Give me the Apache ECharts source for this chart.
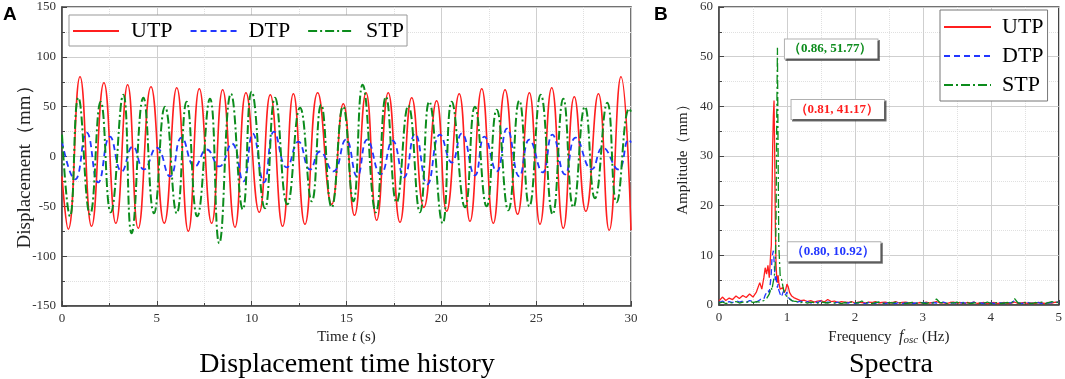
<!DOCTYPE html>
<html><head><meta charset="utf-8">
<script src="https://cdn.jsdelivr.net/npm/echarts@6/dist/echarts.min.js"></script>
<style>html,body{margin:0;padding:0;background:#fff}#c{width:1065px;height:379px}</style>
</head><body><div id="c"></div>
<script>
// ---------- DATA ----------
const seriesNames = ['UTP', 'DTP', 'STP'];
const seriesColors = ['#ff1f1f', '#2236ff', '#0c8c1c'];

// Displacement time history: [time (s), displacement (mm)] read at extrema
const utpHistory = [[0,-20],[0.33,-73],[0.95,80],[1.56,-70],[2.21,74],[2.84,-67],[3.46,72],[4.02,-72],[4.69,70],[5.39,-67],[6.05,69],[6.66,-75],[7.24,68],[7.89,-67],[8.47,67],[9.12,-71],[9.70,64],[10.40,-56],[10.98,62],[11.63,-70],[12.20,63],[12.81,-68],[13.48,64],[14.22,-48],[14.83,53],[15.42,-59],[16.03,64],[16.59,-64],[17.20,64],[17.82,-66],[18.44,59],[19.08,-51],[19.75,56],[20.28,-55],[20.94,63],[21.51,-65],[22.13,68],[22.74,-67],[23.36,67],[24.02,-58],[24.64,64],[25.2,-68],[25.82,69],[26.43,-72],[27.01,60],[27.62,-55],[28.28,63],[28.85,-74],[29.47,80],[30,-74]];
const dtpHistory = [[0,15],[0.69,-23],[1.30,24],[1.91,-26],[2.53,20],[3.15,-15],[3.73,10],[4.32,-13],[4.99,9],[5.69,-20],[6.31,19],[7.01,-10],[7.63,7],[8.29,-10],[8.95,13],[9.56,-25],[10.06,23],[10.65,-26],[11.18,25],[11.85,-11],[12.46,15],[13.08,-13],[13.60,5],[14.30,-15],[14.97,17],[15.56,-20],[16.09,17],[16.80,-18],[17.43,16],[18.03,-21],[18.61,23],[19.26,-28],[19.93,22],[20.55,-6],[21.07,23],[21.77,-19],[22.27,20],[22.92,-15],[23.46,28],[24.11,-20],[24.64,17],[25.34,-16],[25.85,22],[26.52,-18],[27.08,19],[27.93,-13],[28.51,9],[29.33,-13],[29.89,17],[30,14]];
const stpHistory = [[0,22],[0.42,-60],[0.86,59],[1.48,-58],[2.04,55],[2.57,-56],[3.23,62],[3.67,-77],[4.29,59],[4.85,-57],[5.43,50],[6.05,-57],[6.57,55],[7.13,-60],[7.80,58],[8.29,-87],[8.91,63],[9.53,-53],[10.0,65],[10.7,-52],[11.23,59],[11.88,-48],[12.55,49],[13.17,-45],[13.66,52],[14.22,-51],[14.82,50],[15.36,-45],[15.85,72],[16.55,-56],[17.08,60],[17.64,-46],[18.26,51],[18.87,-56],[19.36,55],[20.07,-67],[20.55,55],[21.25,-51],[21.77,50],[22.39,-50],[22.92,47],[23.53,-54],[24.11,56],[24.64,-50],[25.24,62],[25.87,-58],[26.43,58],[26.96,-51],[27.57,50],[28.10,-42],[28.75,54],[29.24,-46],[29.91,48],[30,45]];

// Spectra: frequency bins (Hz) and amplitudes (mm)
const freqs = [
  0,0.05,0.1,0.15,0.2,0.25,0.3,0.35,0.4,0.45,0.5,0.55,0.6,
  0.63,0.66,0.68,0.7,0.72,0.74,0.76,
  0.77,0.78,0.79,0.8,0.81,0.82,0.83,0.84,0.85,0.86,0.87,0.88,
  0.9,0.92,0.94,0.96,0.98,1.0,1.02,1.04,1.07,1.1,
  1.15,1.2,1.25,1.3,1.35,1.4,1.45,1.5,1.55,1.6,
  1.65,1.7,1.75,1.8,1.85,1.9,1.95,2.0,2.05,2.1,
  2.15,2.2,2.25,2.3,2.35,2.4,2.45,2.5,2.55,2.6,
  2.65,2.7,2.75,2.8,2.85,2.9,2.95,3.0,3.05,3.1,
  3.15,3.2,3.25,3.3,3.35,3.4,3.45,3.5,3.55,3.6,
  3.65,3.7,3.75,3.8,3.85,3.9,3.95,4.0,4.05,4.1,
  4.15,4.2,4.25,4.3,4.35,4.4,4.45,4.5,4.55,4.6,
  4.65,4.7,4.75,4.8,4.85,4.9,4.95,5.0];
const utpSpectrum = [
  0.8,1.6,0.9,1.4,1.1,1.8,1.3,1.9,1.5,2.2,1.6,2.6,4.5,
  3.2,5.5,7.5,6.2,8.0,5.5,10.2,
  12,22,32,38,41.17,30,15,8,5.5,4.5,6,4.5,
  3.2,2.8,3.5,2.5,3,4.2,3.6,2.5,1.8,1.5,
  1.2,0.9,1.0,0.7,0.9,0.6,0.8,0.9,0.6,1.1,
  0.7,0.8,0.5,0.7,0.6,0.5,0.7,0.4,0.6,0.5,
  0.4,0.6,0.5,0.7,0.4,0.5,0.6,0.4,0.5,0.7,
  0.4,0.5,0.6,0.4,0.5,0.3,0.5,0.4,0.6,0.4,
  0.5,0.7,0.4,0.5,0.3,0.5,0.6,0.4,0.5,0.3,
  0.5,0.4,0.6,0.3,0.4,0.5,0.3,0.4,0.5,0.3,
  0.4,0.5,0.3,0.4,0.6,0.3,0.4,0.5,0.3,0.4,
  0.3,0.5,0.4,0.3,0.5,0.4,0.6,0.5];
const dtpSpectrum = [
  0.5,0.8,0.4,0.7,0.5,0.9,0.6,0.8,0.5,0.9,0.7,0.6,1.0,
  1.4,1.2,2.0,1.8,3.0,2.5,5.0,
  6.5,9.5,10.3,10.92,9,6.5,5,6,4,3.5,4.2,3,
  2.2,1.6,2.5,3.0,2.0,2.6,1.5,1.2,0.9,0.7,
  0.6,0.8,0.5,0.7,0.4,0.6,0.5,0.8,0.4,0.6,
  0.5,0.4,0.6,0.3,0.5,0.4,0.6,0.3,0.5,0.4,
  0.3,0.5,0.4,0.3,0.6,0.4,0.3,0.5,0.4,0.3,
  0.5,0.3,0.4,0.6,0.3,0.4,0.3,0.5,0.4,0.3,
  0.5,0.4,0.3,0.6,0.4,0.3,0.5,0.3,0.4,0.5,
  0.3,0.4,0.6,0.3,0.4,0.3,0.5,0.4,0.3,0.5,
  0.4,0.3,0.5,0.4,0.9,0.5,0.3,0.4,0.5,0.3,
  0.4,0.5,0.3,0.6,0.4,0.5,0.7,0.5];
const stpSpectrum = [
  0.4,0.6,0.3,0.5,0.4,0.7,0.4,0.6,0.5,0.8,0.5,0.7,0.6,
  0.8,0.9,1.0,1.3,1.5,2.2,2.5,
  3.5,3.0,4.0,3.8,5.5,6.5,9,18,38,51.77,30,12,
  6,5.2,3.8,2.6,2.0,1.8,1.4,1.2,0.9,0.8,
  0.7,0.5,0.6,0.4,0.6,0.5,0.4,0.6,0.5,0.4,
  0.6,0.4,0.5,0.3,0.5,0.4,0.6,0.5,0.4,0.8,
  0.5,0.4,0.3,0.5,0.6,0.4,0.3,0.5,0.4,0.6,
  0.4,0.5,0.3,0.4,0.5,0.3,0.6,0.4,0.3,0.5,
  0.4,1.2,0.5,0.4,0.3,0.5,0.4,0.6,0.3,0.4,
  0.5,0.3,0.4,0.5,0.3,0.4,0.6,0.3,0.4,0.5,
  0.3,0.4,0.5,0.3,1.3,0.4,0.3,0.5,0.4,0.3,
  0.5,0.4,0.6,0.3,0.5,0.7,0.4,0.6];

// Peak annotations [frequency, amplitude]
const utpPeak = [0.81, 41.17];
const dtpPeak = [0.80, 10.92];
const stpPeak = [0.86, 51.77];

// ---------- CHART ----------
const SERIF = '"Times New Roman", "Liberation Serif", "DejaVu Serif", serif';
const SANS = '"Liberation Sans", Arial, sans-serif';
const pair = (f, a) => f.slice(0, Math.min(f.length, a.length)).map((x, i) => [x, a[i]]);

function baseAxis(extra) {
  return Object.assign({
    type: 'value',
    axisLine: { show: true, onZero: false, lineStyle: { color: '#444', width: 1.5 } },
    axisTick: { show: true, inside: true, length: 5, lineStyle: { color: '#444', width: 1 } },
    minorTick: { show: true, splitNumber: 2, length: 3, lineStyle: { color: '#444' } },
    splitLine: { show: true, lineStyle: { color: '#cfcfcf', width: 1 } },
    minorSplitLine: { show: true, lineStyle: { color: '#e0e0e0', type: 'dotted', width: 1 } },
    axisLabel: { fontFamily: SERIF, fontSize: 13, color: '#333', margin: 6 },
    nameLocation: 'middle',
    nameTextStyle: { fontFamily: SERIF, fontSize: 15, color: '#222' }
  }, extra);
}

const lineTypes = ['solid', [6, 4], [9, 3, 2, 3]];
const lineWidths = [1.6, 1.8, 2];
const histories = [utpHistory, dtpHistory, stpHistory];
const spectra = [utpSpectrum, dtpSpectrum, stpSpectrum];
const peaks = [utpPeak, dtpPeak, stpPeak];
const labelLayout = [ { distance: 17, offset: [0, 9] }, { distance: 14, offset: [0, 1] }, { distance: 7, offset: [0, 1] } ];

const series = [];
seriesNames.forEach((n, i) => {
  series.push({
    name: n, type: 'line', xAxisIndex: 0, yAxisIndex: 0,
    data: histories[i], smooth: 0.5, symbol: 'none', showSymbol: false,
    lineStyle: { color: seriesColors[i], width: lineWidths[i], type: lineTypes[i] },
    itemStyle: { color: seriesColors[i] }, z: 2 + i
  });
});
seriesNames.forEach((n, i) => {
  const p = peaks[i];
  series.push({
    name: n, type: 'line', xAxisIndex: 1, yAxisIndex: 1,
    data: pair(freqs, spectra[i]), symbol: 'none', showSymbol: false,
    lineStyle: { color: seriesColors[i], width: 1.3, type: lineTypes[i] },
    itemStyle: { color: seriesColors[i] }, z: 2 + i,
    markPoint: {
      symbol: 'circle', symbolSize: 1, itemStyle: { color: 'rgba(0,0,0,0)' },
      data: [{ coord: p, value: p[1] }],
      label: {
        show: true, position: 'right', distance: labelLayout[i].distance, offset: labelLayout[i].offset,
        formatter: '（' + p[0].toFixed(2) + ', ' + p[1].toFixed(2) + '）',
        fontFamily: SERIF, fontSize: 13, fontWeight: 'bold', color: seriesColors[i],
        backgroundColor: '#fff', borderColor: '#b0b0b0', borderWidth: 1, padding: [3, 5, 3, 3],
        shadowColor: 'rgba(60,60,60,0.7)', shadowOffsetX: 1.5, shadowOffsetY: 1.5, shadowBlur: 0
      }
    }
  });
});

const hiddenSymbol = { color: 'rgba(0,0,0,0)', borderWidth: 0, opacity: 0 };

const option = {
  animation: false,
  backgroundColor: '#fff',
  title: [
    { text: 'A', left: -2, top: 0, textStyle: { fontFamily: SANS, fontSize: 19, fontWeight: 'bold', color: '#000' } },
    { text: 'B', left: 649, top: 0, textStyle: { fontFamily: SANS, fontSize: 19, fontWeight: 'bold', color: '#000' } },
    { text: 'Displacement time history', left: 342, textAlign: 'center', top: 346, textStyle: { fontFamily: SERIF, fontSize: 28, fontWeight: 'normal', color: '#000' } },
    { text: 'Spectra', left: 886, textAlign: 'center', top: 346, textStyle: { fontFamily: SERIF, fontSize: 28, fontWeight: 'normal', color: '#000' } }
  ],
  legend: [
    {
      data: seriesNames, left: 69, top: 15, orient: 'horizontal',
      itemWidth: 46, itemHeight: 14, itemGap: 17,
      itemStyle: hiddenSymbol,
      textStyle: { fontFamily: SERIF, fontSize: 22, color: '#000', padding: [0, 0, 0, 7] },
      borderColor: '#999', borderWidth: 1, padding: [5, 3, 4, 3], backgroundColor: '#fff'
    },
    {
      data: seriesNames, left: 940, top: 10, orient: 'vertical',
      itemWidth: 47, itemHeight: 14, itemGap: 7,
      itemStyle: hiddenSymbol,
      textStyle: { fontFamily: SERIF, fontSize: 22, color: '#000', padding: [0, 0, 0, 6] },
      borderColor: '#777', borderWidth: 1, padding: [6, 4, 5, 3], backgroundColor: '#fff'
    }
  ],
  grid: [
    { left: 62, top: 7, width: 569, height: 299, show: true, borderColor: '#444', borderWidth: 1.5, backgroundColor: 'transparent' },
    { left: 719, top: 7, width: 340, height: 298, show: true, borderColor: '#444', borderWidth: 1.5, backgroundColor: 'transparent' }
  ],
  xAxis: [
    baseAxis({ gridIndex: 0, min: 0, max: 30, interval: 5, name: 'Time {i|t} (s)', nameGap: 21,
      nameTextStyle: { fontFamily: SERIF, fontSize: 15, color: '#222',
        rich: { i: { fontFamily: SERIF, fontSize: 15, fontStyle: 'italic', color: '#222' } } } }),
    baseAxis({ gridIndex: 1, min: 0, max: 5, interval: 1, name: 'Frequency  {i|f}{s|osc} (Hz)', nameGap: 21,
      nameTextStyle: { fontFamily: SERIF, fontSize: 15, color: '#222',
        rich: { i: { fontFamily: SERIF, fontSize: 16, fontStyle: 'italic', color: '#222' },
                s: { fontFamily: SERIF, fontSize: 11, fontStyle: 'italic', color: '#222', padding: [6, 0, 0, 0] } } } })
  ],
  yAxis: [
    baseAxis({ gridIndex: 0, min: -150, max: 150, interval: 50, name: 'Displacement（mm）', nameGap: 27,
      nameMoveOverlap: false,
      nameTextStyle: { fontFamily: SERIF, fontSize: 19, color: '#222', padding: [0, 12, 0, 0] } }),
    baseAxis({ gridIndex: 1, min: 0, max: 60, interval: 10, name: 'Amplitude（mm）', nameGap: 28 })
  ],
  series: series
};

const chart = echarts.init(document.getElementById('c'), null, { renderer: 'canvas' });
chart.setOption(option);
</script>
</body></html>
